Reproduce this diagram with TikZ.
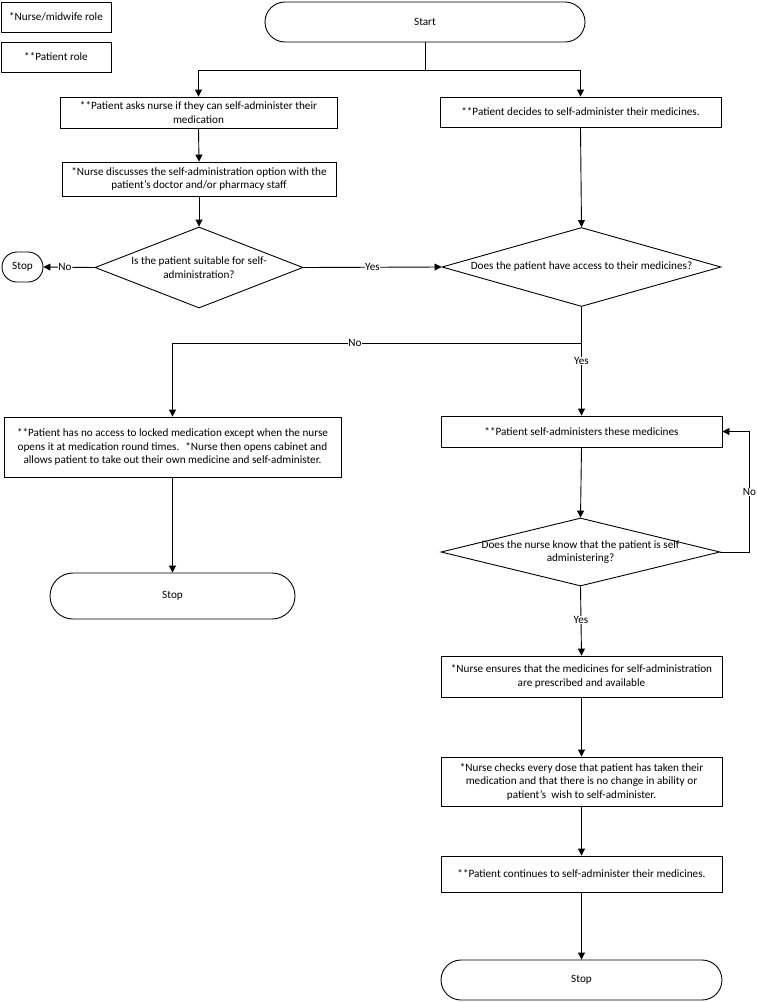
\documentclass[tikz,border=0pt]{standalone}
\usepackage{fontspec}
\setmainfont{Carlito}
\usetikzlibrary{shapes.geometric,arrows.meta,calc}
\begin{document}
\begin{tikzpicture}[x=1pt,y=-1pt,
  every node/.style={font=\fontsize{11.2}{13.5}\selectfont, text=black},
  proc/.style={draw, line width=0.9pt, rectangle, inner sep=0pt, align=center},
  term/.style={draw, line width=0.9pt, rectangle, inner sep=0pt, align=center},
  dia/.style={draw, line width=0.9pt, diamond, inner sep=0pt},
  line/.style={line width=0.9pt},
  arr/.style={line width=0.9pt, -{Triangle[length=7pt,width=7pt]}},
  lbl/.style={fill=white, inner sep=0.5pt}
]
\useasboundingbox (0,0) rectangle (757,1002);
% legend
\node[proc, minimum width=110, minimum height=30] (leg1) at (56,17) {*Nurse/midwife role};
\node[proc, minimum width=110, minimum height=30] (leg2) at (56,57) {**Patient role};
% start
\node[term, rounded corners=20pt, minimum width=320, minimum height=40] (start) at (425,22) {Start};
\node[proc, minimum width=277, minimum height=31] (A) at (198.5,112.5) {**Patient asks nurse if they can self-administer their\\medication};
\node[proc, minimum width=281, minimum height=30] (B) at (580.5,112) {**Patient decides to self-administer their medicines.};
\node[proc, minimum width=274, minimum height=34] (C) at (199,179) {*Nurse discusses the self-administration option with the\\patient’s doctor and/or pharmacy staff};
% diamonds
\node[dia, minimum width=208, minimum height=81] (d1) at (199,267.5) {};
\node[align=center] at (d1) {Is the patient suitable for self-\\administration?};
\node[dia, minimum width=279, minimum height=79] (d2) at (581.5,267) {};
\node[align=center] at (d2) {Does the patient have access to their medicines?};
\node[term, rounded corners=15pt, minimum width=41, minimum height=30] (stopS) at (22.5,267) {Stop};
% left branch
\node[proc, minimum width=337, minimum height=60] (D) at (172.5,447) {**Patient has no access to locked medication except when the nurse\\opens it at medication round times.~ *Nurse then opens cabinet and\\allows patient to take out their own medicine and self-administer.};
\node[term, rounded corners=23pt, minimum width=245, minimum height=46] (stopL) at (172.5,596) {Stop};
% right branch
\node[proc, minimum width=281, minimum height=31] (E) at (581.5,431.5) {**Patient self-administers these medicines};
\node[dia, minimum width=279, minimum height=68] (d3) at (580.5,552) {};
\node[align=center] at (d3) {Does the nurse know that the patient is self\\administering?};
\node[proc, minimum width=281, minimum height=41] (F) at (581.5,676.5) {*Nurse ensures that the medicines for self-administration\\are prescribed and available};
\node[proc, minimum width=281, minimum height=49] (G) at (581.5,781.5) {*Nurse checks every dose that patient has taken their\\medication and that there is no change in ability or\\patient’s~ wish to self-administer.};
\node[proc, minimum width=281, minimum height=36] (H) at (581.5,874) {**Patient continues to self-administer their medicines.};
\node[term, rounded corners=20pt, minimum width=281, minimum height=40] (stopB) at (581.5,980) {Stop};
% connectors
\coordinate (sj) at ($(start.south)+(0,28)$);
\draw[line] (start.south) -- (sj);
\draw[arr] (sj) -| (A.north);
\draw[arr] (sj) -| (B.north);
\draw[arr] (A.south) -- (C.north);
\draw[arr] (C.south) -- (d1.north);
\draw[arr] (B.south) -- (d2.north);
\draw[arr] (d1.west) -- node[lbl,pos=0.58]{No} (stopS.east);
\draw[arr] (d1.east) -- node[lbl,pos=0.5]{Yes} (d2.west);
\coordinate (j2) at ($(d2.south)+(0,36)$);
\draw[arr] (d2.south) -- (j2) -| node[lbl,pos=0.277]{No} (D.north);
\draw[arr] (d2.south) -- node[lbl,pos=0.5]{Yes} (E.north);
\draw[arr] (D.south) -- (stopL.north);
\draw[arr] (E.south) -- (d3.north);
\coordinate (j3) at ($(d3.east)+(29,0)$);
\draw[arr] (d3.east) -- (j3) |- node[lbl,pos=0.25]{No} (E.east);
\draw[arr] (d3.south) -- node[lbl,pos=0.49]{Yes} (F.north);
\draw[arr] (F.south) -- (G.north);
\draw[arr] (G.south) -- (H.north);
\draw[arr] (H.south) -- (stopB.north);
\end{tikzpicture}
\end{document}
